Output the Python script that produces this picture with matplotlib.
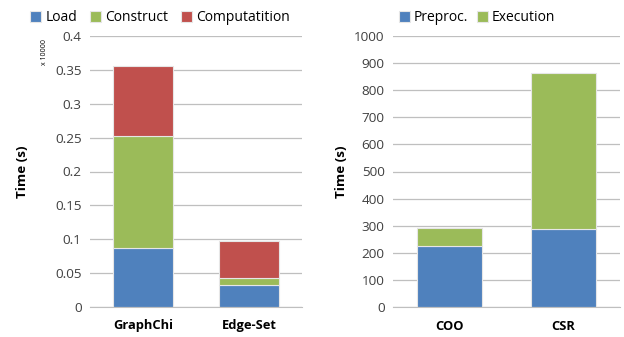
import matplotlib.pyplot as plt
import numpy as np

# left panel: graph processing time (x 10000 s)
graph_sys = ['GraphChi', 'Edge-Set']
load = [0.087, 0.0325]
construct = [0.165, 0.0105]
computation = [0.104, 0.055]

# right panel: sparse format time (s)
formats = ['COO', 'CSR']
preproc = [225, 288]
execution = [67, 575]

blue = '#4F81BD'
green = '#9BBB59'
red = '#C0504D'
grid_c = '#BFBFBF'

plt.rcParams['font.family'] = ['Open Sans', 'DejaVu Sans']

fig = plt.figure(figsize=(6.24, 3.37), dpi=100)
ax1 = fig.add_axes([90/624, 30/337, 212/624, 271/337])
ax2 = fig.add_axes([393/624, 30/337, 227/624, 271/337])


def style(ax, ymax, step, fmt):
    ax.set_ylim(0, ymax)
    ticks = np.arange(0, ymax + step/2, step)
    ax.set_yticks(ticks)
    ax.set_yticklabels([fmt(t) for t in ticks], fontsize=9.7, color='#404040')
    ax.yaxis.grid(True, color=grid_c, linewidth=0.9)
    ax.set_axisbelow(True)
    for s in ['top', 'right', 'left']:
        ax.spines[s].set_visible(False)
    ax.spines['bottom'].set_color(grid_c)
    ax.tick_params(length=0, pad=6)
    ax.tick_params(axis='x', pad=9)
    ax.set_xlim(-0.5, 1.5)
    ax.set_ylabel('Time (s)', fontsize=9.7, fontweight='bold')


x = np.arange(len(graph_sys))
w = 0.57
ec = '#E6E6E6'
ax1.bar(x, load, w, color=blue, edgecolor=ec, linewidth=0.8, label='Load')
ax1.bar(x, construct, w, bottom=load, color=green, edgecolor=ec, linewidth=0.8, label='Construct')
b2 = np.array(load) + np.array(construct)
ax1.bar(x, computation, w, bottom=b2, color=red, edgecolor=ec, linewidth=0.8, label='Computatition')
style(ax1, 0.4, 0.05, lambda t: '0' if t == 0 else ('%.2f' % t).rstrip('0'))
ax1.set_xticks(x)
ax1.set_xticklabels(graph_sys, fontsize=9.3, fontweight='bold')
ax1.yaxis.set_label_coords(-0.29, 0.5)
fig.text(45/624, 285/337, 'x 10000', fontsize=5, rotation=90, ha='center', va='center')
ax1.legend(loc='lower center', bbox_to_anchor=(0.33, 1.02), ncol=3, frameon=False,
           fontsize=10, handlelength=0.8, handleheight=0.8, handletextpad=0.3,
           columnspacing=0.9, borderaxespad=0)

x2 = np.arange(len(formats))
ax2.bar(x2, preproc, w, color=blue, edgecolor=ec, linewidth=0.8, label='Preproc.')
ax2.bar(x2, execution, w, bottom=preproc, color=green, edgecolor=ec, linewidth=0.8, label='Execution')
style(ax2, 1000, 100, lambda t: '%d' % t)
ax2.set_xticks(x2)
ax2.set_xticklabels(formats, fontsize=9.3, fontweight='bold')
ax2.yaxis.set_label_coords(-0.2, 0.5)
ax2.legend(loc='lower center', bbox_to_anchor=(0.37, 1.02), ncol=2, frameon=False,
           fontsize=10, handlelength=0.8, handleheight=0.8, handletextpad=0.3,
           columnspacing=0.6, borderaxespad=0)

fig.savefig('out.png', dpi=100)
